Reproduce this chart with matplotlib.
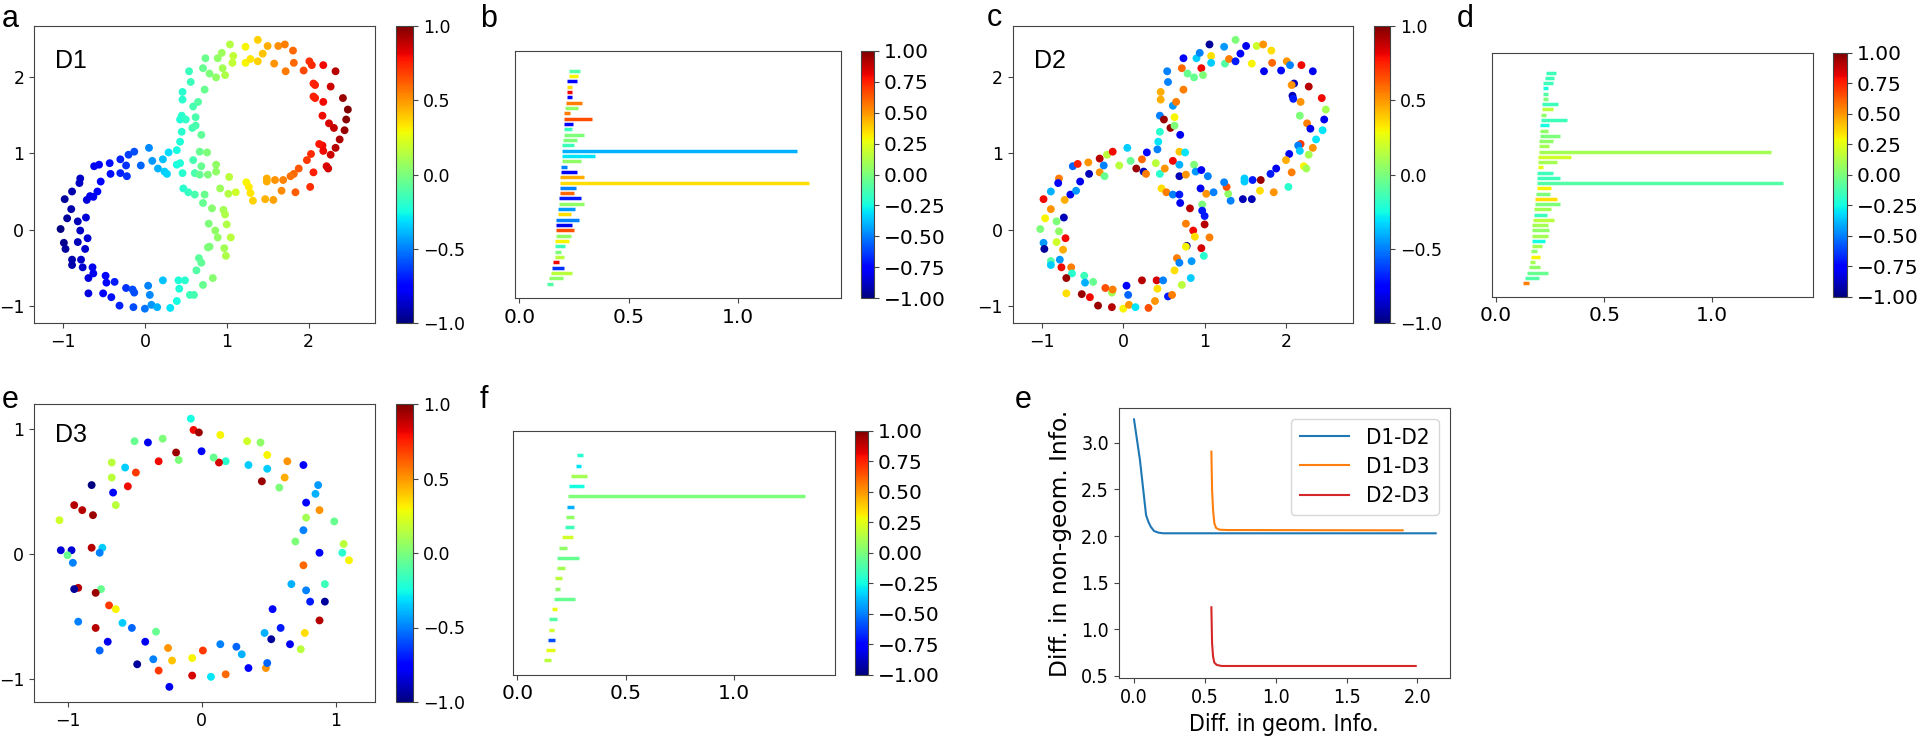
import matplotlib
matplotlib.use("Agg")
import matplotlib.pyplot as plt
import numpy as np
from matplotlib.cm import ScalarMappable
from matplotlib.colors import Normalize
from matplotlib import font_manager as fm

# ---------------- data ----------------
# D1: figure-eight point cloud, colour = signal value
d1_x = [-1.03, -0.98, -0.95, -0.90, -0.89, -0.99, -0.97, -0.89, -0.89, -0.82,
        -0.82, -0.79, -0.80, -0.79, -0.72, -0.73, -0.70, -0.78, -0.76, -0.71,
        -0.67, -0.63, -0.64, -0.63, -0.69, -0.69, -0.58, -0.62, -0.56, -0.54,
        -0.51, -0.48, -0.47, -0.43, -0.42, -0.41, -0.37, -0.31, -0.30, -0.30,
        -0.23, -0.22, -0.23, -0.20, -0.14, -0.15, -0.13, -0.13, -0.05, 0.00,
        0.04, 0.06, 0.05, 0.08, 0.09, 0.15, 0.16, 0.22, 0.22, 0.24,
        0.27, 0.29, 0.31, 0.39, 0.39, 0.41, 0.49, 0.42, 0.43, 0.46,
        0.47, 0.53, 0.55, 0.60, 0.61, 0.63, 0.66, 0.69, 0.71, 0.71,
        0.73, 0.78, 0.77, 0.79, 0.82, 0.83, 0.86, 0.89, 0.92, 0.96,
        0.98, 0.99, 0.97, 1.00, 1.02, 1.05, 1.03, 1.11,
        0.39, 0.43, 0.59, 0.61, 0.67, 0.76, 0.69, 0.67, 0.77, 0.87, 0.87,
        0.45, 0.43, 0.45, 0.50, 0.58, 0.62, 0.62, 0.69, 0.46, 0.46,
        0.59, 0.65, 0.56, 0.54, 0.73, 0.71, 0.74, 0.79, 0.87, 0.89,
        0.94, 0.95, 0.98, 1.04, 1.08, 1.07, 1.23, 1.23, 1.29, 1.38,
        1.38, 1.44, 1.50, 1.58, 1.63, 1.71, 1.72, 1.81, 1.82, 1.94,
        2.01, 2.04, 2.18, 2.33, 2.06, 2.08, 2.27, 2.06, 2.08, 2.18,
        2.42, 2.48, 2.46, 2.44, 2.17, 2.25, 2.31, 2.38, 2.33, 2.27,
        2.17, 2.18, 2.13, 2.03, 1.98, 2.06, 2.22, 2.24, 1.88, 1.82,
        1.78, 2.02, 1.84, 1.67, 1.69, 1.59, 1.49, 1.49, 1.57, 1.47,
        1.32, 1.24, 1.27, 1.29]
d1_y = [0.01, 0.40, 0.15, 0.27, 0.50, -0.17, -0.25, -0.39, -0.46, 0.11,
        -0.16, -0.01, 0.61, 0.67, 0.16, -0.25, -0.11, -0.39, -0.49, 0.39,
        0.44, 0.43, -0.49, -0.57, -0.63, -0.83, 0.50, 0.83, 0.85, 0.63,
        -0.83, -0.60, -0.69, 0.87, 0.73, -0.88, -0.68, -0.99, 0.92, 0.74,
        0.84, 0.70, -0.76, 0.98, -1.01, -0.78, -0.82, 1.02, 0.84, -1.03,
        -0.73, -0.85, 1.07, -0.98, 0.90, -1.01, 0.80, 0.92, -0.66, 0.76,
        0.73, 1.01, -1.02, -0.93, 0.85, -0.66, -0.66, -0.77, 0.87, 0.74,
        0.54, 0.49, -0.85, -0.85, 0.46, -0.53, -0.37, -0.43, -0.72, 0.35,
        0.46, 0.08, -0.23, -0.22, 0.28, -0.63, -0.01, -0.10, 0.54, 0.26,
        0.20, -0.34, -0.24, 0.07, 0.47, -0.10, 0.69, 0.49,
        1.04, 1.15, 0.91, 0.74, 1.02, 1.01, 0.83, 0.72, 0.72, 0.85, 0.76,
        1.28, 1.44, 1.49, 1.44, 1.33, 1.36, 1.47, 1.24, 1.70, 1.80,
        1.61, 1.67, 1.93, 2.07, 1.83, 2.11, 2.24, 2.04, 1.99, 2.24,
        2.31, 2.11, 2.02, 2.42, 2.27, 2.18, 2.39, 2.18, 2.23, 2.48,
        2.20, 2.30, 2.40, 2.17, 2.40, 2.42, 2.07, 2.34, 2.18, 2.08,
        2.20, 2.15, 2.15, 2.07, 1.91, 1.89, 1.87, 1.74, 1.72, 1.67,
        1.72, 1.57, 1.44, 1.30, 1.49, 1.39, 1.33, 1.18, 1.07, 0.98,
        1.10, 1.03, 1.12, 0.99, 0.91, 0.75, 0.83, 0.80, 0.80, 0.73,
        0.70, 0.56, 0.49, 0.51, 0.65, 0.65, 0.67, 0.63, 0.39, 0.40,
        0.38, 0.62, 0.56, 0.48]
d1_c = [-1.0, -0.95, -0.95, -0.92, -0.92, -0.97, -0.95, -0.92, -0.92, -0.9,
        -0.9, -0.88, -0.88, -0.88, -0.85, -0.86, -0.85, -0.87, -0.86, -0.84,
        -0.82, -0.8, -0.8, -0.8, -0.83, -0.83, -0.78, -0.8, -0.78, -0.78,
        -0.76, -0.75, -0.74, -0.72, -0.72, -0.72, -0.7, -0.68, -0.68, -0.68,
        -0.65, -0.65, -0.65, -0.63, -0.6, -0.6, -0.6, -0.6, -0.55, -0.52,
        -0.5, -0.48, -0.48, -0.46, -0.45, -0.4, -0.4, -0.37, -0.37, -0.35,
        -0.33, -0.32, -0.3, -0.25, -0.25, -0.22, -0.2, -0.22, -0.22, -0.2,
        -0.2, -0.17, -0.15, -0.13, -0.12, -0.1, -0.08, -0.07, -0.05, -0.05,
        -0.04, 0.0, 0.0, 0.0, 0.03, 0.03, 0.05, 0.06, 0.08, 0.1,
        0.12, 0.12, 0.1, 0.13, 0.14, 0.15, 0.15, 0.2,
        -0.25, -0.22, -0.13, -0.12, -0.05, 0.0, -0.05, -0.06, 0.0, 0.05, 0.05,
        -0.2, -0.22, -0.2, -0.18, -0.14, -0.12, -0.12, -0.07, -0.2, -0.2,
        -0.13, -0.1, -0.15, -0.16, -0.05, -0.05, -0.04, 0.0, 0.05, 0.05,
        0.08, 0.1, 0.12, 0.14, 0.17, 0.17, 0.3, 0.3, 0.33, 0.38,
        0.38, 0.4, 0.45, 0.5, 0.52, 0.55, 0.56, 0.6, 0.6, 0.67,
        0.72, 0.73, 0.8, 0.9, 0.75, 0.75, 0.86, 0.75, 0.75, 0.8,
        0.95, 1.0, 0.98, 0.96, 0.8, 0.85, 0.88, 0.92, 0.9, 0.86,
        0.8, 0.8, 0.78, 0.73, 0.7, 0.75, 0.84, 0.85, 0.64, 0.6,
        0.58, 0.72, 0.62, 0.53, 0.54, 0.5, 0.45, 0.45, 0.48, 0.44,
        0.37, 0.3, 0.32, 0.33]

# D2: same kind of cloud, shuffled signal
d2_x = [-1.02, -0.98, -0.97, -0.98, -0.96, -0.89, -0.89, -0.89, -0.89, -0.82,
        -0.82, -0.79, -0.79, -0.80, -0.78, -0.76, -0.73, -0.74, -0.71, -0.72,
        -0.65, -0.64, -0.63, -0.70, -0.70, -0.58, -0.62, -0.56, -0.53, -0.51,
        -0.48, -0.47, -0.43, -0.42, -0.41, -0.37, -0.31, -0.29, -0.29, -0.24,
        -0.23, -0.22, -0.20, -0.14, -0.14, -0.13, -0.13, -0.05, 0.00, 0.04,
        0.06, 0.05, 0.07, 0.09, 0.15, 0.16, 0.23, 0.23, 0.25, 0.28,
        0.29, 0.31, 0.39, 0.41, 0.42, 0.40, 0.42, 0.43, 0.45, 0.45,
        0.47, 0.49, 0.51, 0.53, 0.55, 0.60, 0.61, 0.61, 0.63, 0.66,
        0.69, 0.69, 0.69, 0.69, 0.69, 0.70, 0.72, 0.76, 0.78, 0.77,
        0.77, 0.77, 0.82, 0.83, 0.84, 0.86, 0.88, 0.87, 0.89, 0.95,
        0.96, 0.97, 0.97, 1.00, 0.99, 0.96, 1.00, 1.02, 1.06, 1.04, 1.11,
        0.45, 0.50, 0.58, 0.63, 0.63, 0.70, 0.46, 0.46, 0.61, 0.65,
        0.55, 0.54, 0.74, 0.72, 0.74, 0.79, 0.87, 0.90, 0.94, 0.96,
        0.98, 1.06, 1.08, 1.08, 1.24, 1.25, 1.30, 1.38, 1.38, 1.44,
        1.51, 1.58, 1.64, 1.72, 1.73, 1.82, 1.83, 1.94, 2.01, 2.05,
        2.19, 2.33, 2.10, 2.07, 2.28, 2.08, 2.09, 2.18, 2.44, 2.49,
        2.47, 2.45, 2.17, 2.26, 2.30, 2.37, 2.33, 2.28, 2.18, 2.15,
        2.17, 2.04, 2.00, 2.07, 2.22, 2.25, 1.88, 1.81, 2.03, 1.85,
        1.68, 1.69, 1.59, 1.49, 1.49, 1.58, 1.47, 1.32, 1.29, 1.27, 1.24]
d2_y = [0.01, -0.17, -0.25, 0.40, 0.15, 0.27, 0.50, -0.41, -0.46, 0.11,
        -0.16, -0.02, 0.67, 0.61, -0.39, -0.49, 0.16, -0.26, -0.11, 0.39,
        0.46, -0.49, -0.57, -0.63, -0.83, 0.51, 0.83, 0.86, 0.63, -0.84,
        -0.60, -0.69, 0.88, 0.73, -0.88, -0.68, -0.99, 0.93, 0.75, 0.84,
        0.70, -0.76, 0.98, -1.01, -0.82, -0.78, 1.02, 0.84, -1.03, -0.73,
        -0.85, 1.07, -0.98, 0.90, -1.01, 0.80, 0.92, -0.66, 0.76, 0.73,
        1.01, -1.02, -0.93, -0.66, -0.77, 0.87, 1.05, 1.15, 1.28, 0.73,
        0.54, -0.66, 0.80, 0.49, -0.87, -0.85, 0.90, 0.46, -0.53, -0.37,
        -0.43, 1.02, 0.85, 0.70, 0.46, 0.35, -0.72, 1.01, -0.21, -0.22,
        0.72, 0.08, 0.28, -0.63, -0.41, -0.01, -0.09, 0.85, 0.76, 0.54,
        0.78, 0.33, 0.25, 0.18, -0.34, -0.24, 0.07, 0.47, -0.10, 0.70, 0.49,
        1.49, 1.44, 1.33, 1.36, 1.47, 1.24, 1.70, 1.80, 1.62, 1.67,
        1.93, 2.07, 1.83, 2.11, 2.24, 2.04, 1.99, 2.24, 2.31, 2.11,
        2.02, 2.42, 2.27, 2.18, 2.39, 2.17, 2.23, 2.48, 2.20, 2.30,
        2.40, 2.17, 2.40, 2.42, 2.07, 2.34, 2.18, 2.08, 2.20, 2.15,
        2.15, 2.07, 1.91, 1.89, 1.87, 1.75, 1.71, 1.67, 1.72, 1.57,
        1.44, 1.30, 1.49, 1.39, 1.32, 1.18, 1.07, 0.98, 1.12, 1.10,
        1.03, 0.99, 0.91, 0.75, 0.83, 0.80, 0.80, 0.73, 0.56, 0.49,
        0.51, 0.65, 0.65, 0.67, 0.63, 0.40, 0.40, 0.38, 0.47, 0.56, 0.62]
d2_c = [0.0, -0.45, -0.95, 0.8, 0.3, 0.5, -0.4, -0.1, -0.35, 0.0,
        0.2, 0.05, 0.55, -0.75, -0.45, 0.8, -0.9, 0.45, 0.8, 0.45,
        -0.8, 0.55, -0.2, 0.95, 0.35, -0.45, -0.55, 0.75, -0.8, 0.95,
        -0.15, -0.4, 0.5, -0.9, 0.8, -0.05, 0.95, 0.9, 0.5, -0.5,
        -0.05, 0.65, 0.15, 0.9, 0.1, 0.55, 0.8, 0.15, 0.3, -0.75,
        -0.55, -0.35, 0.5, -0.05, -0.3, 0.95, 0.6, 0.9, -0.9, 0.55,
        -0.75, 0.65, 0.5, 0.85, 0.35, 0.15, -0.5, -0.3, -0.2, -0.2,
        0.35, -0.5, 0.5, 0.55, -0.7, 0.55, 0.8, -0.5, 0.35, 0.55,
        -0.5, 0.4, -0.4, -0.9, -0.7, -0.8, 0.15, -0.3, -0.95, 0.3,
        0.5, 0.55, 0.9, -0.35, -0.45, 0.8, 0.35, 0.0, -0.45, -0.8,
        -0.75, 0.0, -0.7, -0.7, -0.2, 0.85, 0.9, 0.5, 0.55, -0.5, -0.5,
        -0.5, 0.95, 0.95, 0.0, 0.3, -0.8, 0.45, 0.45, -0.45, 0.55,
        -0.5, -0.5, 0.55, 0.6, -0.75, -0.05, -0.05, -0.35, -0.5, 0.8,
        0.0, -0.95, 0.35, -0.35, -0.45, -0.1, 0.55, 0.0, -0.7, -0.75,
        -0.8, 0.3, 0.2, 0.5, -0.8, 0.35, 0.6, -0.75, 0.5, -0.5,
        0.8, -0.8, -0.9, 0.5, 0.9, -0.9, -0.7, 0.5, 0.8, 0.1,
        -0.8, -0.3, 0.0, 0.55, -0.8, -0.3, 0.5, 0.1, 0.7, -0.5,
        -0.35, -0.8, 0.45, 0.55, 0.3, 0.1, -0.8, -0.7, -0.2, 0.5,
        0.35, 0.95, -0.7, -0.35, -0.35, -0.9, -0.9, -0.5, 0.05, 0.65, -0.5]

# D3: ring
d3_x = [-0.08, -0.06, -0.02, 0.14, 0.34, 0.44, 0.49, 0.64, 0.76, 0.62,
        0.58, 0.45, 0.35, 0.49, 0.18, 0.13, 0.09, 0.00, -0.19, -0.17,
        -0.32, -0.29, -0.40, -0.50, -0.67, -0.67, -0.57, -0.49, -0.55, -0.66,
        -0.64, -0.82, -0.95, -0.89, -0.81, -1.06, -1.05, -0.97, -1.00, -0.96,
        -0.82, -0.74, -0.76, -0.92, -0.95, -0.75, -0.79, -0.69, -0.64, -0.92,
        -0.79, -0.59, -0.52, -0.34, -0.70, -0.76, -0.42, -0.48, -0.36, -0.25,
        -0.22, -0.32, -0.24, -0.07, -0.07, 0.01, 0.07, 0.18, 0.14, 0.26,
        0.30, 0.35, 0.48, 0.49, 0.47, 0.52, 0.59, 0.53, 0.66, 0.74,
        0.77, 0.88, 0.92, 0.81, 0.78, 0.67, 0.92, 0.76, 0.88, 1.05,
        1.10, 1.06, 0.99, 0.70, 0.76, 0.78, 0.88, 0.78, 0.85, 0.87]
d3_y = [1.08, 0.99, 0.97, 0.95, 0.90, 0.89, 0.79, 0.74, 0.71, 0.61,
        0.53, 0.58, 0.71, 0.68, 0.74, 0.73, 0.77, 0.82, 0.81, 0.75,
        0.74, 0.92, 0.89, 0.90, 0.73, 0.61, 0.69, 0.65, 0.54, 0.49,
        0.39, 0.55, 0.39, 0.35, 0.31, 0.27, 0.03, 0.03, -0.01, -0.07,
        0.05, 0.05, 0.01, -0.27, -0.28, -0.28, -0.31, -0.41, -0.44, -0.54,
        -0.59, -0.55, -0.59, -0.62, -0.70, -0.77, -0.70, -0.88, -0.84, -0.75,
        -0.85, -0.93, -1.06, -0.97, -0.83, -0.77, -0.98, -0.96, -0.72, -0.74,
        -0.80, -0.91, -0.91, -0.87, -0.63, -0.68, -0.59, -0.44, -0.72, -0.76,
        -0.63, -0.53, -0.38, -0.38, -0.29, -0.24, -0.24, -0.09, 0.01, 0.01,
        -0.05, 0.08, 0.26, 0.10, 0.19, 0.29, 0.35, 0.41, 0.48, 0.55]
d3_c = [-0.25, 0.8, 0.95, 0.3, 0.2, 0.05, 0.3, 0.5, -0.75, 0.45,
        0.0, 0.95, -0.35, -0.35, -0.2, 0.85, -0.05, -0.75, 0.95, 0.0,
        0.8, 0.0, -0.8, -0.05, 0.15, 0.15, -0.35, 0.7, 0.8, -0.75,
        0.15, -1.0, 0.9, 0.9, 0.95, 0.2, -0.85, -0.85, -0.05, -0.5,
        0.9, -0.35, -0.5, 0.9, -0.95, -0.05, 0.95, 0.7, 0.3, -0.5,
        0.9, -0.35, -0.55, -0.05, -0.8, -0.55, -0.8, -0.95, -0.5, 0.5,
        0.4, 0.7, -0.8, 0.85, 0.3, 0.7, -0.3, 0.6, -0.5, -0.55,
        -0.4, -0.75, 0.5, -0.55, -0.4, -0.95, -0.7, -0.75, -0.8, 0.15,
        0.35, 0.9, -0.95, -0.7, -0.5, -0.4, -0.15, 0.6, -0.75, -0.2,
        0.3, 0.15, -0.05, 0.0, -0.5, 0.1, 0.5, -0.75, -0.4, -0.45]

# barcodes (listed top to bottom): birth, death, colour
b_start = [0.228, 0.227, 0.216, 0.216, 0.216, 0.215, 0.212, 0.209, 0.205, 0.205,
           0.204, 0.202, 0.202, 0.198, 0.196, 0.195, 0.195, 0.193, 0.190, 0.189,
           0.187, 0.187, 0.186, 0.184, 0.181, 0.180, 0.178, 0.175, 0.169, 0.167,
           0.166, 0.166, 0.164, 0.163, 0.163, 0.161, 0.155, 0.149, 0.145, 0.134, 0.125]
b_end = [0.277, 0.266, 0.265, 0.239, 0.239, 0.242, 0.288, 0.266, 0.231, 0.330,
         0.244, 0.242, 0.297, 0.262, 0.247, 1.269, 0.347, 0.282, 0.216, 0.262,
         0.297, 1.324, 0.257, 0.251, 0.280, 0.295, 0.256, 0.234, 0.271, 0.242,
         0.247, 0.236, 0.228, 0.210, 0.189, 0.205, 0.180, 0.202, 0.239, 0.198, 0.155]
b_color = [-0.1, 0.3, -0.75, 0.35, 0.8, -0.75, 0.55, 0.05, 0.55, 0.65,
           -0.75, -0.15, 0.0, 0.0, -0.15, -0.4, -0.3, 0.05, -0.5, -0.75,
           0.45, 0.35, -0.5, 0.6, -0.7, 0.05, -0.45, 0.35, -0.5, -0.8,
           0.65, 0.05, 0.3, -0.15, 0.0, 0.15, 0.8, -0.65, 0.15, 0.05, -0.1]

d_start = [0.231, 0.228, 0.219, 0.219, 0.218, 0.218, 0.213, 0.211, 0.207, 0.207,
           0.205, 0.204, 0.204, 0.199, 0.198, 0.198, 0.194, 0.193, 0.193, 0.188,
           0.188, 0.188, 0.188, 0.185, 0.182, 0.181, 0.177, 0.176, 0.170, 0.168,
           0.167, 0.167, 0.165, 0.164, 0.162, 0.162, 0.157, 0.150, 0.145, 0.134, 0.123]
d_end = [0.276, 0.267, 0.265, 0.239, 0.239, 0.241, 0.285, 0.265, 0.231, 0.327,
         0.244, 0.241, 0.296, 0.261, 0.245, 1.272, 0.347, 0.282, 0.215, 0.261,
         0.296, 1.327, 0.256, 0.250, 0.281, 0.296, 0.255, 0.235, 0.270, 0.242,
         0.247, 0.238, 0.228, 0.211, 0.188, 0.204, 0.181, 0.201, 0.239, 0.198, 0.154]
d_color = [-0.15, -0.15, -0.15, -0.25, -0.1, 0.0, -0.15, 0.15, 0.05, -0.15,
           -0.25, 0.05, 0.0, 0.05, 0.1, 0.1, 0.2, 0.1, 0.25, -0.15,
           -0.15, -0.1, 0.3, 0.0, 0.35, 0.0, 0.1, -0.15, 0.15, 0.1,
           0.05, 0.1, -0.25, 0.1, 0.05, 0.3, 0.1, 0.05, -0.05, -0.1, 0.55]

f_start = [0.277, 0.270, 0.249, 0.238, 0.235, 0.230, 0.223, 0.219, 0.206, 0.190,
           0.185, 0.182, 0.175, 0.175, 0.167, 0.159, 0.148, 0.145, 0.142, 0.133, 0.122]
f_end = [0.304, 0.292, 0.321, 0.308, 1.329, 0.260, 0.263, 0.263, 0.258, 0.227,
         0.284, 0.219, 0.206, 0.199, 0.267, 0.182, 0.181, 0.168, 0.175, 0.176, 0.153]
f_color = [-0.2, -0.3, 0.1, -0.25, 0.0, -0.4, 0.05, -0.15, 0.2, 0.05,
           -0.05, 0.1, 0.15, 0.05, -0.05, 0.25, -0.1, 0.2, -0.6, 0.25, 0.15]

# trade-off curves
curve_labels = ["D1-D2", "D1-D3", "D2-D3"]
geo_12 = [0.0, 0.042, 0.085, 0.101, 0.118, 0.141, 0.172, 0.207, 2.129]
non_12 = [3.25, 2.814, 2.225, 2.154, 2.10, 2.054, 2.036, 2.029, 2.029]
geo_13 = [0.546, 0.551, 0.558, 0.567, 0.579, 0.602, 0.654, 1.896]
non_13 = [2.904, 2.493, 2.279, 2.136, 2.086, 2.068, 2.064, 2.061]
geo_23 = [0.546, 0.551, 0.558, 0.567, 0.584, 0.619, 1.988]
non_23 = [1.236, 0.85, 0.707, 0.643, 0.618, 0.607, 0.607]

# ---------------- drawing ----------------
plt.rcParams['font.family'] = ['DejaVu Sans']
SANS = ['Liberation Sans', 'DejaVu Sans']

# the trade-off panel in the reference uses horizontally compressed DejaVu text
_files = [f.fname for f in fm.fontManager.ttflist]
if any('DejaVuSansCondensed.ttf' in p for p in _files):
    COND = {'family': ['DejaVu Sans'], 'stretch': 'condensed'}
else:
    COND = {'family': ['Liberation Sans', 'DejaVu Sans'], 'stretch': 'normal'}

EDGE = '#444444'
W, H = 1920, 738
fig = plt.figure(figsize=(W / 100, H / 100), dpi=100)
norm = Normalize(-1, 1)
cmap = plt.get_cmap('jet')


def px_rect(l, r, t, b):
    return [l / W, 1 - b / H, (r - l) / W, (b - t) / H]


def style(ax, size):
    for s in ax.spines.values():
        s.set_edgecolor(EDGE)
    ax.tick_params(labelsize=size, color=EDGE)


def add_cbar(rect, ticks, size):
    cax = fig.add_axes(rect)
    cb = fig.colorbar(ScalarMappable(norm=norm, cmap=cmap), cax=cax, ticks=ticks)
    cb.outline.set_edgecolor(EDGE)
    cax.tick_params(labelsize=size, color=EDGE)
    return cb


def scatter_panel(rect, cbrect, xs, ys, cs, xlim, ylim, xticks, yticks, name, ty):
    ax = fig.add_axes(rect)
    ax.scatter(xs, ys, c=cs, cmap=cmap, norm=norm, s=32, linewidths=0)
    ax.set_xlim(xlim)
    ax.set_ylim(ylim)
    ax.set_xticks(xticks)
    ax.set_yticks(yticks)
    style(ax, 12.5)
    ax.text(0.062, ty, name, transform=ax.transAxes, fontsize=18,
            family=SANS, va='baseline')
    add_cbar(cbrect, [-1, -0.5, 0, 0.5, 1], 12.5)
    return ax


def bar_panel(rect, cbrect, starts, ends, cs, ylim, lw):
    ax = fig.add_axes(rect)
    n = len(starts)
    ypos = np.arange(n)[::-1]
    ax.hlines(ypos, starts, ends, colors=cmap(norm(np.array(cs))), linewidth=lw)
    ax.set_xlim(-0.019, 1.468)
    ax.set_ylim(ylim)
    ax.set_yticks([])
    ax.set_xticks([0.0, 0.5, 1.0])
    style(ax, 14.5)
    add_cbar(cbrect, np.arange(-1, 1.01, 0.25), 14.5)
    return ax


scatter_panel(px_rect(34, 375, 26, 323), px_rect(396, 413, 26, 323),
              d1_x, d1_y, d1_c, (-1.355, 2.812), (-1.217, 2.661),
              [-1, 0, 1, 2], [-1, 0, 1, 2], "D1", 0.86)
bar_panel(px_rect(515.3, 840.7, 50.7, 298.3), px_rect(860.7, 874.3, 50.7, 298.3),
          b_start, b_end, b_color, (-2.75, 43.76), 2.5)
scatter_panel(px_rect(1012.7, 1353, 26, 323), px_rect(1374, 1390, 26, 323),
              d2_x, d2_y, d2_c, (-1.359, 2.824), (-1.217, 2.661),
              [-1, 0, 1, 2], [-1, 0, 1, 2], "D2", 0.86)
bar_panel(px_rect(1492, 1813.3, 52.7, 296.7), px_rect(1833.3, 1847.3, 52.7, 296.7),
          d_start, d_end, d_color, (-2.6, 43.8), 2.5)
scatter_panel(px_rect(34, 375, 404, 702), px_rect(396, 413, 404, 702),
              d3_x, d3_y, d3_c, (-1.25, 1.294), (-1.181, 1.197),
              [-1, 0, 1], [-1, 0, 1], "D3", 0.873)
bar_panel(px_rect(513.3, 835, 430.7, 674.7), px_rect(855, 868.3, 430.7, 674.7),
          f_start, f_end, f_color, (-1.4, 22.41), 2.5)

# trade-off panel
ax = fig.add_axes(px_rect(1118.7, 1450, 407.7, 678.3))
ax.plot(geo_12, non_12, color='#1f77b4', lw=1.5, label=curve_labels[0])
ax.plot(geo_13, non_13, color='#ff7f0e', lw=1.5, label=curve_labels[1])
ax.plot(geo_23, non_23, color='#d62728', lw=1.5, label=curve_labels[2])
ax.set_xlim(-0.108, 2.23)
ax.set_ylim(0.475, 3.375)
ax.set_xticks([0.0, 0.5, 1.0, 1.5, 2.0])
ax.set_yticks([0.5, 1.0, 1.5, 2.0, 2.5, 3.0])
style(ax, 14)
for lab in ax.get_xticklabels() + ax.get_yticklabels():
    lab.set_family(COND['family'])
    lab.set_stretch(COND['stretch'])
ax.set_xlabel("Diff. in geom. Info.", fontsize=16.5, family=COND['family'],
              stretch=COND['stretch'], labelpad=4)
ax.set_ylabel("Diff. in non-geom. Info.", fontsize=16.8, family=['DejaVu Sans'],
              labelpad=7)
ax.legend(loc='upper right', handlelength=2.2, labelspacing=0.42,
          prop={'family': COND['family'], 'size': 16, 'stretch': COND['stretch']})

# panel letters
letters = [("a", 2, 27), ("b", 480, 27), ("c", 987, 26), ("d", 1457, 27),
           ("e", 2, 408), ("f", 480, 408), ("e", 1015, 408)]
for t, x, y in letters:
    fig.text(x / W, 1 - y / H, t, fontsize=22, family=SANS, va='baseline')

fig.savefig("out.png", dpi=100)
